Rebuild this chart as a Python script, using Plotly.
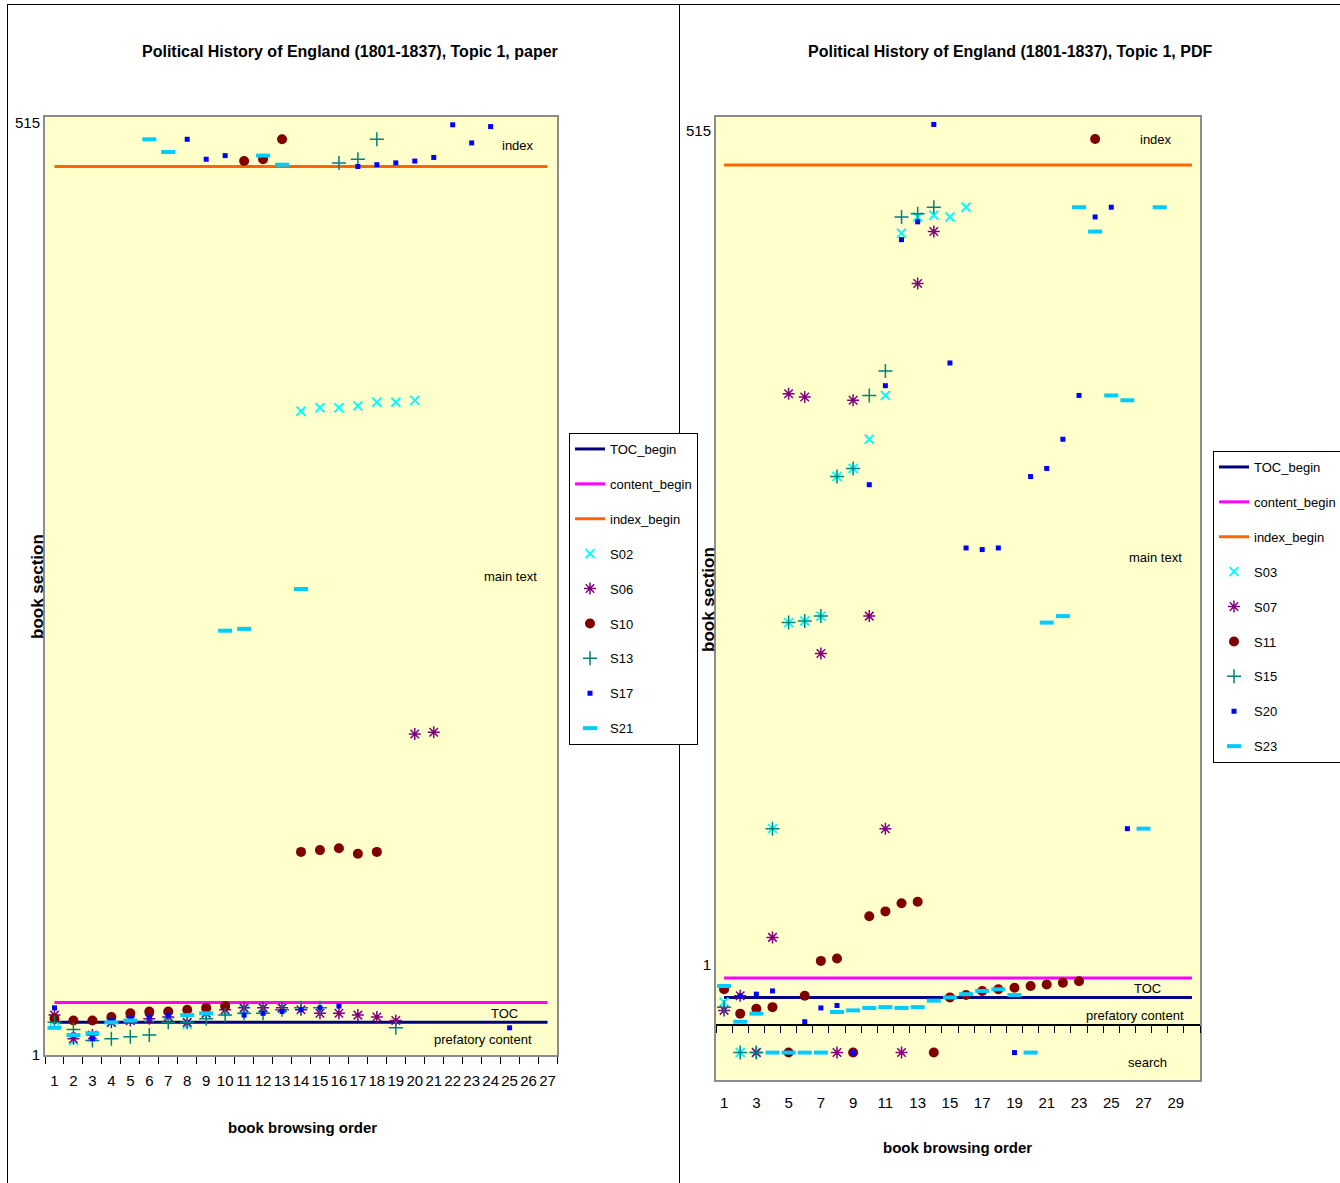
import plotly.graph_objects as go

W, H = 1340, 1183
FONT = "Liberation Sans, Arial, sans-serif"

# ---------------- Left panel: paper ----------------
L_categories = list(range(1, 28))
L_toc_begin = 19
L_content_begin = 30
L_index_begin = 491

L_S02_x = list(range(1, 21))
L_S02_y = [20, 9, 11, 19, 20, 22, 23, 18, 24, 25, 26, 27, 27, 356, 358, 358, 359, 361, 361, 362]
L_S06_x = list(range(1, 22))
L_S06_y = [23, 10, 12, 19, 20, 21, 22, 19, 24, 26, 27, 27, 27, 26, 24, 24, 23, 22, 20, 178, 179]
L_S10_x = list(range(1, 19))
L_S10_y = [21, 20, 20, 22, 24, 25, 25, 26, 27, 28, 494, 495, 506, 113, 114, 115, 112, 113]
L_S13_x = list(range(1, 20))
L_S13_y = [19, 15, 9, 10, 11, 12, 19, 19, 21, 23, 24, 24, 26, 27, 27, 493, 495, 506, 16]
L_S17_x = list(range(1, 26))
L_S17_y = [27, 12, 10, 20, 21, 22, 23, 506, 495, 497, 23, 24, 25, 26, 27, 28, 491, 492, 493, 494, 496, 514, 504, 513, 16]
L_S21_x = list(range(1, 15))
L_S21_y = [16, 12, 13, 19, 20, 506, 499, 23, 24, 235, 236, 497, 492, 258]

# ---------------- Right panel: PDF ----------------
R_categories = list(range(1, 31))
R_toc_begin = -19
R_content_begin = -7
R_index_begin = 494

R_S03_x = list(range(1, 17))
R_S03_y = [-22, -53, -53, 85, 212, 213, 216, 302, 307, 325, 352, 452, 462, 463, 462, 468]
R_S07_x = list(range(1, 15))
R_S07_y = [-27, -18, -53, 18, 353, 351, 193, -53, 349, 216, 85, -53, 421, 453]
R_S11_x = list(range(1, 25))
R_S11_y = [-14, -29, -26, -25, -53, -18, 3.5, 5, -53, 31, 34, 39, 40, -53, -19, -17.5, -15, -14, -13, -12, -11, -10, -9, 510]
R_S15_x = list(range(1, 15))
R_S15_y = [-25, -53, -53, 85, 212, 213, 216, 302, 307, 352, 367, 462, 464, 468]
R_S20_x = [2, 3, 4, 6, 7, 8, 9, 10, 11, 12, 13, 14, 15, 16, 17, 18, 19, 20, 21, 22, 23, 24, 25, 26]
R_S20_y = [-18, -17, -15, -34, -25.5, -24, -53, 297, 358, 448, 459, 519, 372, 258, 257, 258, -53, 302, 307, 325, 352, 462, 468, 85]
R_S23_x = list(range(1, 29))
R_S23_y = [-12, -34, -29, -53, -53, -53, -53, -28, -27, -25.5, -25, -25.5, -25, -21, -19, -17, -15, -14, -17.5, -53, 212, 216, 468, 453, 352, 349, 85, 468]

y_tick_vals = [1, 515]
y_tick_text = ["1", "515"]

# ---------------- styles ----------------
line_styles = {"TOC_begin": "#000080", "content_begin": "#FF00FF", "index_begin": "#FF6600"}
marker_styles = [
    dict(symbol="x-thin-open", size=9, color="#00FFFF", line=dict(width=2, color="#00FFFF")),
    dict(symbol="asterisk-open", size=10, color="#800080", line=dict(width=1.5, color="#800080")),
    dict(symbol="circle", size=10, color="#800000", line=dict(width=0)),
    dict(symbol="cross-thin-open", size=10, color="#008080", line=dict(width=1.5, color="#008080")),
    dict(symbol="square", size=5, color="#0000FF", line=dict(width=0)),
    dict(symbol="line-ew-open", size=10, color="#00CCFF", line=dict(width=4, color="#00CCFF")),
]

fig = go.Figure()

def add_panel(xa, ya, legend, cats, toc, content, index, series):
    for name, val in (("TOC_begin", toc), ("content_begin", content), ("index_begin", index)):
        fig.add_trace(go.Scatter(
            x=[cats[0], cats[-1]], y=[val, val], mode="lines", name=name,
            line=dict(color=line_styles[name], width=3),
            xaxis=xa, yaxis=ya, legend=legend, legendgroup=legend + name))
    for (name, xs, ys), st in zip(series, marker_styles):
        fig.add_trace(go.Scatter(
            x=xs, y=ys, mode="markers", name=name, marker=st,
            xaxis=xa, yaxis=ya, legend=legend, legendgroup=legend + name))

add_panel("x", "y", "legend", L_categories, L_toc_begin, L_content_begin, L_index_begin,
          [("S02", L_S02_x, L_S02_y), ("S06", L_S06_x, L_S06_y), ("S10", L_S10_x, L_S10_y),
           ("S13", L_S13_x, L_S13_y), ("S17", L_S17_x, L_S17_y), ("S21", L_S21_x, L_S21_y)])
add_panel("x2", "y2", "legend2", R_categories, R_toc_begin, R_content_begin, R_index_begin,
          [("S03", R_S03_x, R_S03_y), ("S07", R_S07_x, R_S07_y), ("S11", R_S11_x, R_S11_y),
           ("S15", R_S15_x, R_S15_y), ("S20", R_S20_x, R_S20_y), ("S23", R_S23_x, R_S23_y)])
# empty trace so the in-plot category axis of the right panel is created
fig.add_trace(go.Scatter(x=[], y=[], xaxis="x3", yaxis="y2", showlegend=False, hoverinfo="skip"))

def px(x):
    return x / W

def py(y):
    return 1 - y / H

tickfont = dict(family=FONT, size=15, color="black")
border = "#8C8C8C"
legend_style = dict(xanchor="left", yanchor="top", bgcolor="white", bordercolor="black",
                    borderwidth=1, font=dict(family=FONT, size=13, color="black"),
                    tracegroupgap=15, traceorder="grouped", itemwidth=30)

fig.update_layout(
    width=W, height=H, margin=dict(l=0, r=0, t=0, b=0, autoexpand=False),
    paper_bgcolor="white", plot_bgcolor="#FFFFCC",
    font=dict(family=FONT, size=13, color="black"),
    xaxis=dict(domain=[px(45), px(557)], range=[0.5, 27.5], anchor="y",
               tickvals=L_categories, ticktext=[str(c) for c in L_categories], ticks="",
               tickangle=0, ticklabelstandoff=11, tickfont=tickfont,
               minor=dict(tickvals=[c - 0.5 for c in L_categories] + [27.5], ticks="outside",
                          ticklen=7, tickcolor="black", tickwidth=1),
               showline=True, linecolor=border, linewidth=2, mirror=True,
               showgrid=False, zeroline=False),
    yaxis=dict(domain=[py(1055), py(117)], range=[1, 518.3], anchor="x",
               tickvals=y_tick_vals, ticktext=y_tick_text, ticks="", tickfont=tickfont,
               showline=True, linecolor=border, linewidth=2, mirror=True,
               showgrid=False, zeroline=False),
    xaxis2=dict(domain=[px(716), px(1200)], range=[0.5, 30.5], anchor="y2",
                tickvals=[c for c in R_categories if c % 2 == 1],
                ticktext=[str(c) for c in R_categories if c % 2 == 1], ticks="",
                tickangle=0, ticklabelstandoff=8, tickfont=tickfont,
                showline=True, linecolor=border, linewidth=2, mirror=True,
                showgrid=False, zeroline=False),
    xaxis3=dict(overlaying="x2", anchor="free", position=py(1025), range=[0.5, 30.5],
                domain=[px(716), px(1200)],
                tickvals=[c - 0.5 for c in R_categories] + [30.5], ticks="outside", ticklen=7,
                tickcolor="black", tickwidth=1, showticklabels=False,
                showline=True, linecolor="black", linewidth=1.5,
                showgrid=False, zeroline=False),
    yaxis2=dict(domain=[py(1080), py(117)], range=[-69.9, 523.6], anchor="x2",
                tickvals=y_tick_vals, ticktext=y_tick_text, ticks="", tickfont=tickfont,
                showline=True, linecolor=border, linewidth=2, mirror=True,
                showgrid=False, zeroline=False),
    legend=dict(x=px(569), y=py(433), **legend_style),
    legend2=dict(x=px(1213), y=py(451), **legend_style),
    showlegend=True,
)

def ann(text, x, y, size=13, bold=False, angle=0):
    fig.add_annotation(text=f"<b>{text}</b>" if bold else text, x=px(x), y=py(y),
                       xref="paper", yref="paper", showarrow=False, textangle=angle,
                       xanchor="center", yanchor="middle",
                       font=dict(family=FONT, size=size, color="black"))

ann("Political History of England (1801-1837), Topic 1, paper", 350, 52, 16, True)
ann("Political History of England (1801-1837), Topic 1, PDF", 1010, 52, 16, True)
ann("book section", 37, 587, 17, True, -90)
ann("book section", 708, 600, 17, True, -90)
ann("book browsing order", 302, 1127, 15, True)
ann("book browsing order", 957, 1147, 15, True)
ann("index", 518, 145)
ann("main text", 510, 576)
ann("TOC", 504, 1013)
ann("prefatory content", 483, 1039)
ann("index", 1156, 140)
ann("main text", 1155, 557)
ann("TOC", 1147, 988)
ann("prefatory content", 1135, 1015)
ann("search", 1147, 1062)

frame = dict(type="line", xref="paper", yref="paper", line=dict(color="black", width=1))
fig.add_shape(x0=px(7.5), x1=px(7.5), y0=0, y1=py(4), **frame)
fig.add_shape(x0=px(679.5), x1=px(679.5), y0=0, y1=py(4), **frame)
fig.add_shape(x0=px(7.5), x1=1, y0=py(4.5), y1=py(4.5), **frame)

fig.write_html("out.html", config={"displayModeBar": False},
               post_script="document.body.style.margin='0px';")
